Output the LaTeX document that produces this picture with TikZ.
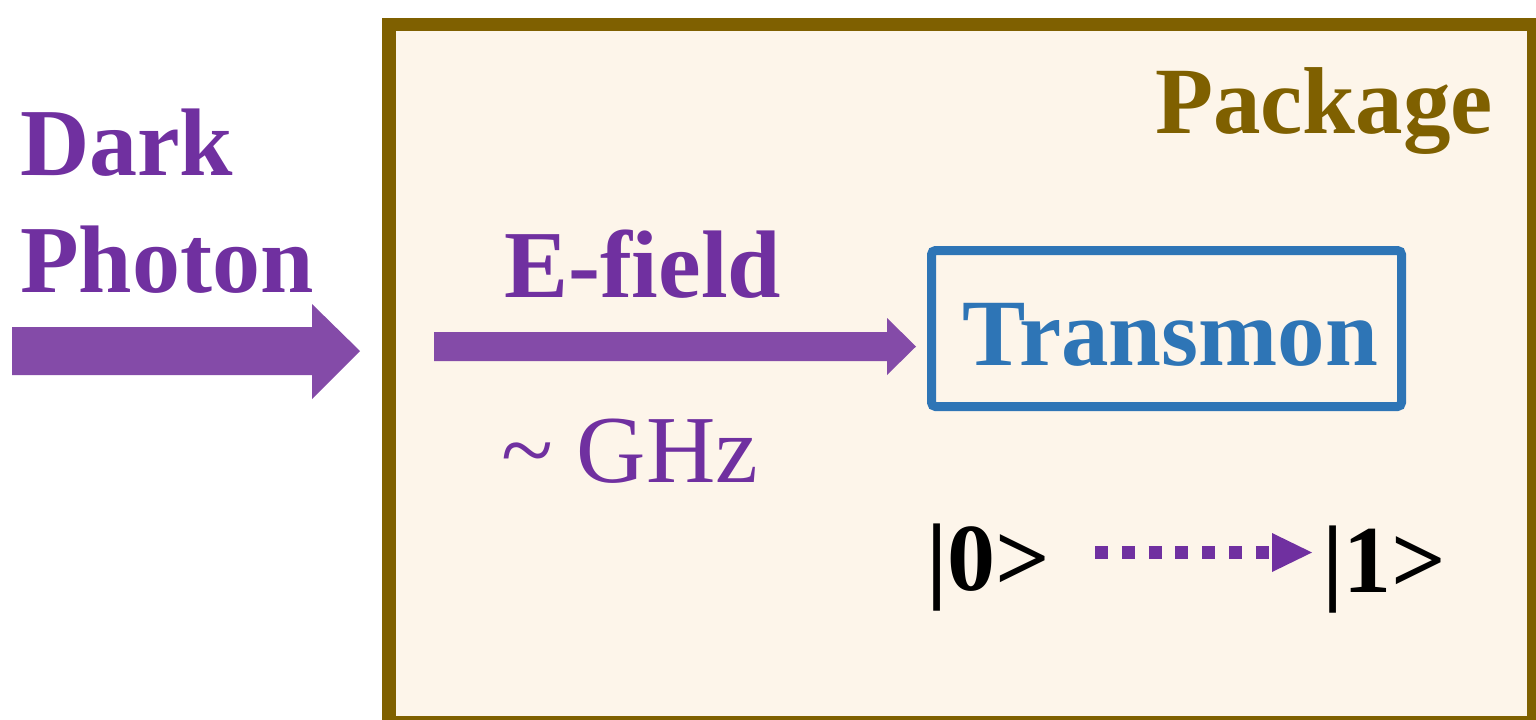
\documentclass[tikz,border=0pt]{standalone}
\usepackage{fontspec}
\setmainfont{Liberation Serif}
\definecolor{txtpurple}{HTML}{7030A0}
\definecolor{arrpurple}{HTML}{844BA8}
\definecolor{pkgolive}{HTML}{7F6000}
\definecolor{pkgfill}{HTML}{FDF5EA}
\definecolor{tmblue}{HTML}{2E75B6}
\tikzset{
  lbl/.style={inner sep=0pt, outer sep=0pt, anchor=base west},
  bigbold/.style={lbl, font=\fontsize{48pt}{58pt}\selectfont\bfseries},
  bigreg/.style={lbl, font=\fontsize{48pt}{58pt}\selectfont},
  blockarrow/.style={fill=arrpurple, draw=none},
  tmbox/.style={draw=tmblue, line width=4.5pt, rounded corners=2pt, inner sep=0pt,
    minimum width=235pt, minimum height=78pt, text=tmblue,
    font=\fontsize{47.5pt}{58pt}\selectfont\bfseries, text height=36.5pt, text depth=0pt},
  dotline/.style={draw=txtpurple, line width=6.5pt, dash pattern=on 6.5pt off 6.9pt},
}
\begin{document}
\begin{tikzpicture}[x=0.5pt,y=-0.5pt]
\useasboundingbox (0,0) rectangle (1536,719);
\clip (0,0) rectangle (1536,719);
% package box
\draw[line width=6.75pt, draw=pkgolive, fill=pkgfill] (389,24.5) rectangle (1533.75,722.75);
\node[bigbold, text=pkgolive, font=\fontsize{47.5pt}{58pt}\selectfont\bfseries] (package) at (1155,133) {Package};
% dark photon
\node[bigbold, text=txtpurple] (dark) at (20,175) {Dark};
\node[bigbold, text=txtpurple] (photon) at (20,292) {Photon};
\fill[blockarrow] (12,327) -- (312,327) -- (312,304) -- (360,351) -- (312,399) -- (312,375) -- (12,375) -- cycle;
% E-field
\node[bigbold, text=txtpurple] (efield) at (504,297) {E-field};
\fill[blockarrow] (434,332) -- (887,332) -- (887,318) -- (916,346.5) -- (887,375) -- (887,361) -- (434,361) -- cycle;
\node[bigreg, text=txtpurple] (ghz) at (501,482) {\textasciitilde{} GHz};
% transmon
\node[tmbox] (transmon) at (1166.5,328.5) {};
\node[tmbox, draw=none, fill=none] (transmontext) at (1170.5,328.5) {Transmon};
% states
\node[bigbold, text=black] (zero) at (926,590) {|0>};
\node[bigbold, text=black] (one) at (1322,592) {|1>};
\coordinate (d0) at (1095,552.5);
\coordinate (d1) at (1269,552.5);
\draw[dotline] (d0) -- (d1);
\fill[txtpurple] (1272,533) -- (1312,552.5) -- (1272,572) -- cycle;
\end{tikzpicture}
\end{document}
